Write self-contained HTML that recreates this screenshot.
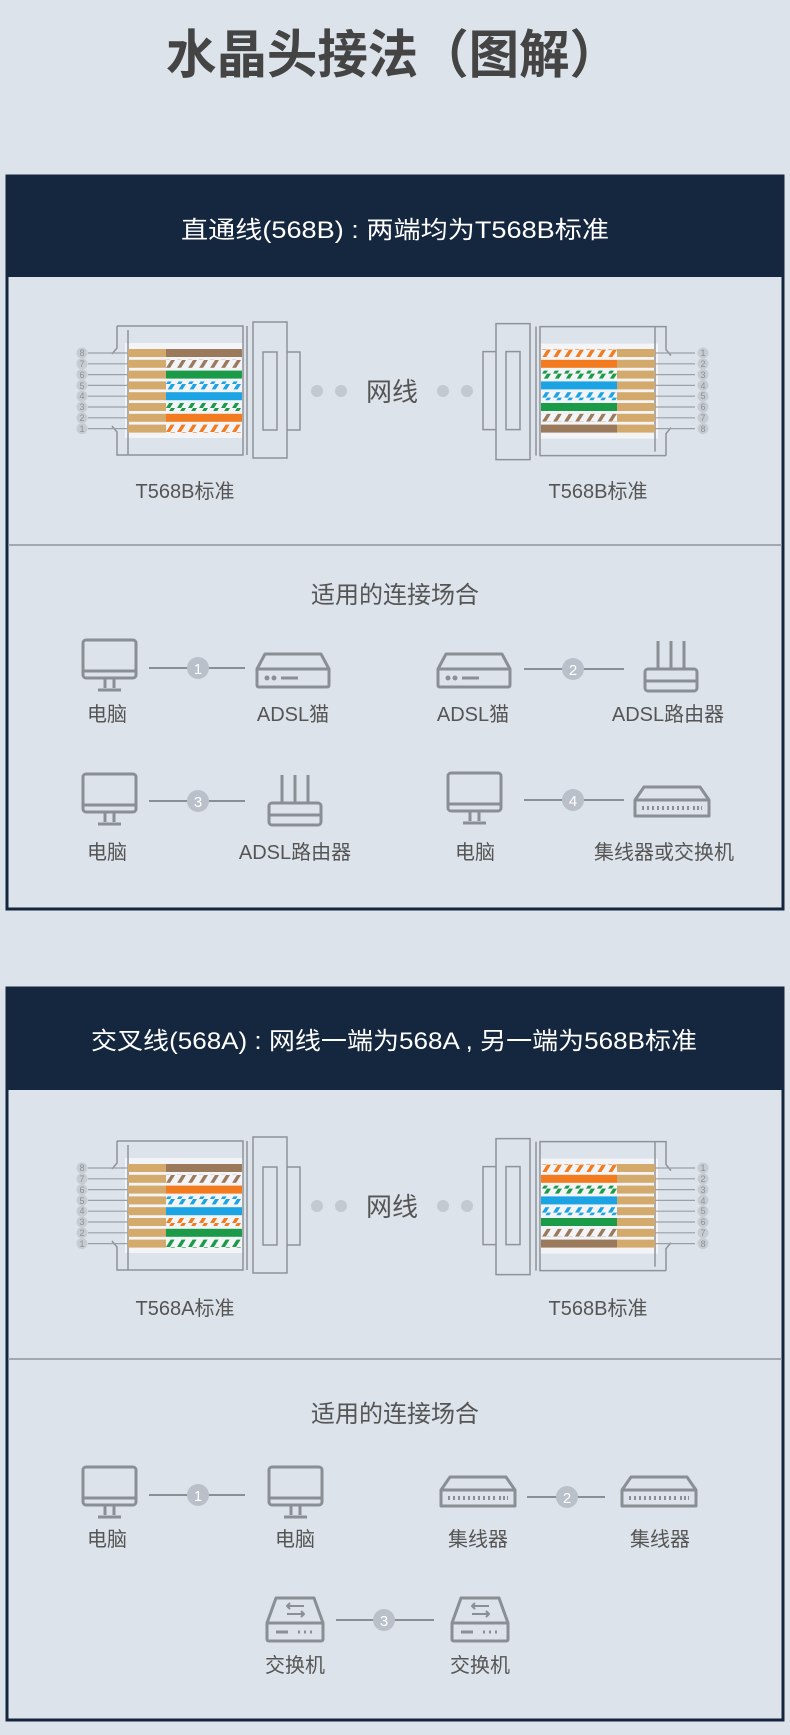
<!DOCTYPE html>
<html><head><meta charset="utf-8"><style>
html,body{margin:0;padding:0;background:#dde3ea;}
svg{display:block;font-family:"Liberation Sans","Noto Sans CJK SC",sans-serif;}
</style></head><body>
<svg width="790" height="1735" viewBox="0 0 790 1735" xmlns="http://www.w3.org/2000/svg">
<defs>
<pattern id="pbr" patternUnits="userSpaceOnUse" width="11" height="8"><path d="M1 8 L6 0 L10 0 L5 8 Z" fill="#9b7a5c"/></pattern>
<pattern id="pgr" patternUnits="userSpaceOnUse" width="11" height="8"><path d="M1 8 L6 0 L10 0 L5 8 Z" fill="#1b9a47"/></pattern>
<pattern id="pbl" patternUnits="userSpaceOnUse" width="11" height="8"><path d="M1 8 L6 0 L10 0 L5 8 Z" fill="#1ca3e3"/></pattern>
<pattern id="por" patternUnits="userSpaceOnUse" width="11" height="8"><path d="M1 8 L6 0 L10 0 L5 8 Z" fill="#f27b1f"/></pattern>
<g id="body" fill="none" stroke="#8e939a" stroke-width="1.5">
<rect x="125" y="343" width="118" height="95" fill="#f2f4f7" stroke="none"/>
<path d="M117 326 H243 V455 H117 V432 L112 426 M117 326 V348 L112 354"/>
<path d="M128 330 V455 M247 326 V455 M253 322 H287 V458 H253 Z"/>
<rect x="263" y="352" width="14" height="78"/>
<path d="M287 352 H300 V430 H287"/>
</g>
<g id="leads" stroke="#9aa0a7" stroke-width="1.2">
<line x1="88" y1="353" x2="128" y2="353"/><line x1="88" y1="363.8" x2="128" y2="363.8"/>
<line x1="88" y1="374.6" x2="128" y2="374.6"/><line x1="88" y1="385.4" x2="128" y2="385.4"/>
<line x1="88" y1="396.2" x2="128" y2="396.2"/><line x1="88" y1="407" x2="128" y2="407"/>
<line x1="88" y1="417.8" x2="128" y2="417.8"/><line x1="88" y1="428.6" x2="128" y2="428.6"/>
</g>
<g id="tan" fill="#d4aa6c">
<rect x="128" y="349" width="38" height="8"/><rect x="128" y="359.8" width="38" height="8"/>
<rect x="128" y="370.6" width="38" height="8"/><rect x="128" y="381.4" width="38" height="8"/>
<rect x="128" y="392.2" width="38" height="8"/><rect x="128" y="403" width="38" height="8"/>
<rect x="128" y="413.8" width="38" height="8"/><rect x="128" y="424.6" width="38" height="8"/>
</g>
<g id="wB">
<rect x="166" y="349" width="76" height="8" fill="#9b7a5c"/>
<rect x="166" y="359.8" width="76" height="8" fill="url(#pbr)"/>
<rect x="166" y="370.6" width="76" height="8" fill="#1b9a47"/>
<rect x="166" y="381.4" width="76" height="8" fill="url(#pbl)"/>
<rect x="166" y="392.2" width="76" height="8" fill="#1ca3e3"/>
<rect x="166" y="403" width="76" height="8" fill="url(#pgr)"/>
<rect x="166" y="413.8" width="76" height="8" fill="#f27b1f"/>
<rect x="166" y="424.6" width="76" height="8" fill="url(#por)"/>
</g>
<g id="wA">
<rect x="166" y="349" width="76" height="8" fill="#9b7a5c"/>
<rect x="166" y="359.8" width="76" height="8" fill="url(#pbr)"/>
<rect x="166" y="370.6" width="76" height="8" fill="#f27b1f"/>
<rect x="166" y="381.4" width="76" height="8" fill="url(#pbl)"/>
<rect x="166" y="392.2" width="76" height="8" fill="#1ca3e3"/>
<rect x="166" y="403" width="76" height="8" fill="url(#por)"/>
<rect x="166" y="413.8" width="76" height="8" fill="#1b9a47"/>
<rect x="166" y="424.6" width="76" height="8" fill="url(#pgr)"/>
</g>
<g id="circ" fill="#c7ccd3">
<circle cx="0" cy="353" r="5.5"/><circle cx="0" cy="363.8" r="5.5"/><circle cx="0" cy="374.6" r="5.5"/><circle cx="0" cy="385.4" r="5.5"/>
<circle cx="0" cy="396.2" r="5.5"/><circle cx="0" cy="407" r="5.5"/><circle cx="0" cy="417.8" r="5.5"/><circle cx="0" cy="428.6" r="5.5"/>
</g>
<g id="monitor" fill="none" stroke="#8a8f96" stroke-width="3" stroke-linejoin="round">
<rect x="0" y="0" width="53" height="38" rx="3"/><line x1="0" y1="31" x2="53" y2="31"/>
<line x1="22" y1="39" x2="22" y2="48"/><line x1="31" y1="39" x2="31" y2="48"/><line x1="15" y1="50" x2="38" y2="50"/>
</g>
<g id="modem" fill="none" stroke="#8a8f96" stroke-width="3" stroke-linejoin="round">
<path d="M9 1 H65 L73 16 V32 Q73 34 71 34 H3 Q1 34 1 32 V16 Z"/><line x1="1" y1="16" x2="73" y2="16"/>
<circle cx="11" cy="25" r="1" fill="#8a8f96"/><circle cx="18" cy="25" r="1" fill="#8a8f96"/><line x1="25" y1="25" x2="42" y2="25"/>
</g>
<g id="router" fill="none" stroke="#8a8f96" stroke-width="3" stroke-linejoin="round">
<line x1="14" y1="0" x2="14" y2="28"/><line x1="27" y1="0" x2="27" y2="28"/><line x1="40" y1="0" x2="40" y2="28"/>
<rect x="1" y="28" width="52" height="22" rx="3"/><line x1="1" y1="40" x2="53" y2="40"/>
</g>
<g id="hub" fill="none" stroke="#8a8f96" stroke-width="3" stroke-linejoin="round">
<path d="M10 1 H66 L75 14 V30 H1 V14 Z"/><line x1="1" y1="14" x2="75" y2="14"/>
<line x1="8" y1="22" x2="56" y2="22" stroke-width="4" stroke-dasharray="2 3"/>
<line x1="59" y1="22" x2="68" y2="22" stroke-width="4" stroke-dasharray="2 2"/>
</g>
<g id="swbox" fill="none" stroke="#8a8f96" stroke-width="3" stroke-linejoin="round">
<path d="M9 1 H47 L56 26 V42 Q56 44 54 44 H2 Q0 44 0 42 V26 Z"/><line x1="0" y1="26" x2="56" y2="26"/>
<path d="M20 9 H37 M23 6 L20 9 L23 12 M20 17 H37 M34 14 L37 17 L34 20" stroke-width="2"/>
<line x1="9" y1="35" x2="21" y2="35"/><line x1="31" y1="35" x2="47" y2="35" stroke-dasharray="2 4" stroke-width="3"/>
</g>
</defs>

<text x="393" y="73" font-size="52" font-weight="bold" fill="#444" text-anchor="middle" textLength="454" lengthAdjust="spacingAndGlyphs">水晶头接法（图解）</text>

<rect x="7" y="176" width="776" height="733" fill="none" stroke="#14263f" stroke-width="3"/>
<rect x="6" y="175" width="778" height="102" fill="#15263f"/>
<text x="395" y="238" font-size="24" fill="#fff" text-anchor="middle" textLength="428" lengthAdjust="spacingAndGlyphs">直通线(568B) : 两端均为T568B标准</text>

<use href="#body"/><use href="#tan"/><use href="#wB"/><use href="#leads"/>
<use href="#circ" x="82"/>
<g font-size="9" fill="#8c9198" text-anchor="middle">
<text x="82" y="356">8</text><text x="82" y="367">7</text><text x="82" y="378">6</text><text x="82" y="389">5</text><text x="82" y="399">4</text><text x="82" y="410">3</text><text x="82" y="421">2</text><text x="82" y="432">1</text>
</g>
<g transform="rotate(180 391.5 390.8)"><use href="#body"/><use href="#tan"/><use href="#wB"/><use href="#leads"/></g>
<use href="#circ" x="703"/>
<g font-size="9" fill="#8c9198" text-anchor="middle">
<text x="703" y="356">1</text><text x="703" y="367">2</text><text x="703" y="378">3</text><text x="703" y="389">4</text><text x="703" y="399">5</text><text x="703" y="410">6</text><text x="703" y="421">7</text><text x="703" y="432">8</text>
</g>
<g fill="#c3c9d1"><circle cx="317" cy="391" r="6"/><circle cx="341" cy="391" r="6"/><circle cx="443" cy="391" r="6"/><circle cx="467" cy="391" r="6"/></g>
<text x="392" y="401" font-size="26" fill="#555" text-anchor="middle">网线</text>
<text x="185" y="498" font-size="20" fill="#555" text-anchor="middle">T568B标准</text>
<text x="598" y="498" font-size="20" fill="#555" text-anchor="middle">T568B标准</text>

<line x1="8" y1="545" x2="782" y2="545" stroke="#8f959c" stroke-width="1.5"/>
<text x="395" y="603" font-size="24" fill="#555" text-anchor="middle">适用的连接场合</text>

<g stroke="#8a8f96" stroke-width="2">
<line x1="149" y1="668" x2="245" y2="668"/><line x1="524" y1="669" x2="624" y2="669"/>
<line x1="149" y1="801" x2="245" y2="801"/><line x1="524" y1="800" x2="624" y2="800"/>
</g>
<g fill="#b9c0c9"><circle cx="198" cy="668" r="11"/><circle cx="573" cy="669" r="11"/><circle cx="198" cy="801" r="11"/><circle cx="573" cy="800" r="11"/></g>
<g font-size="15" fill="#fff" text-anchor="middle"><text x="198" y="674">1</text><text x="573" y="675">2</text><text x="198" y="807">3</text><text x="573" y="806">4</text></g>
<use href="#monitor" x="83" y="640"/><use href="#modem" x="256" y="653"/>
<use href="#modem" x="437" y="653"/><use href="#router" x="644" y="641"/>
<use href="#monitor" x="83" y="774"/><use href="#router" x="268" y="775"/>
<use href="#monitor" x="448" y="773"/><use href="#hub" x="634" y="786"/>
<g font-size="20" fill="#555" text-anchor="middle">
<text x="107" y="721">电脑</text><text x="293" y="721">ADSL猫</text><text x="473" y="721">ADSL猫</text><text x="668" y="721">ADSL路由器</text>
<text x="107" y="859">电脑</text><text x="295" y="859">ADSL路由器</text><text x="475" y="859">电脑</text><text x="664" y="859">集线器或交换机</text>
</g>

<rect x="7" y="988" width="776" height="732" fill="none" stroke="#14263f" stroke-width="3"/>
<rect x="6" y="987" width="778" height="103" fill="#15263f"/>
<text x="394" y="1049" font-size="24" fill="#fff" text-anchor="middle" textLength="606" lengthAdjust="spacingAndGlyphs">交叉线(568A) : 网线一端为568A , 另一端为568B标准</text>

<g transform="translate(0 815)">
<use href="#body"/><use href="#tan"/><use href="#wA"/><use href="#leads"/>
<use href="#circ" x="82"/>
<g font-size="9" fill="#8c9198" text-anchor="middle">
<text x="82" y="356">8</text><text x="82" y="367">7</text><text x="82" y="378">6</text><text x="82" y="389">5</text><text x="82" y="399">4</text><text x="82" y="410">3</text><text x="82" y="421">2</text><text x="82" y="432">1</text>
</g>
<g transform="rotate(180 391.5 390.8)"><use href="#body"/><use href="#tan"/><use href="#wB"/><use href="#leads"/></g>
<use href="#circ" x="703"/>
<g font-size="9" fill="#8c9198" text-anchor="middle">
<text x="703" y="356">1</text><text x="703" y="367">2</text><text x="703" y="378">3</text><text x="703" y="389">4</text><text x="703" y="399">5</text><text x="703" y="410">6</text><text x="703" y="421">7</text><text x="703" y="432">8</text>
</g>
<g fill="#c3c9d1"><circle cx="317" cy="391" r="6"/><circle cx="341" cy="391" r="6"/><circle cx="443" cy="391" r="6"/><circle cx="467" cy="391" r="6"/></g>
<text x="392" y="401" font-size="26" fill="#555" text-anchor="middle">网线</text>
<text x="185" y="500" font-size="20" fill="#555" text-anchor="middle">T568A标准</text>
<text x="598" y="500" font-size="20" fill="#555" text-anchor="middle">T568B标准</text>
</g>

<line x1="8" y1="1359" x2="782" y2="1359" stroke="#8f959c" stroke-width="1.5"/>
<text x="395" y="1422" font-size="24" fill="#555" text-anchor="middle">适用的连接场合</text>

<g stroke="#8a8f96" stroke-width="2">
<line x1="149" y1="1495" x2="245" y2="1495"/><line x1="527" y1="1497" x2="605" y2="1497"/>
<line x1="336" y1="1620" x2="434" y2="1620"/>
</g>
<g fill="#b9c0c9"><circle cx="198" cy="1495" r="11"/><circle cx="567" cy="1497" r="11"/><circle cx="384" cy="1620" r="11"/></g>
<g font-size="15" fill="#fff" text-anchor="middle"><text x="198" y="1501">1</text><text x="567" y="1503">2</text><text x="384" y="1626">3</text></g>
<use href="#monitor" x="83" y="1467"/><use href="#monitor" x="269" y="1467"/>
<use href="#hub" x="440" y="1476"/><use href="#hub" x="621" y="1476"/>
<use href="#swbox" x="267" y="1597"/><use href="#swbox" x="452" y="1597"/>
<g font-size="20" fill="#555" text-anchor="middle">
<text x="107" y="1546">电脑</text><text x="295" y="1546">电脑</text><text x="478" y="1546">集线器</text><text x="660" y="1546">集线器</text>
<text x="295" y="1672">交换机</text><text x="480" y="1672">交换机</text>
</g>
</svg>
</body></html>
